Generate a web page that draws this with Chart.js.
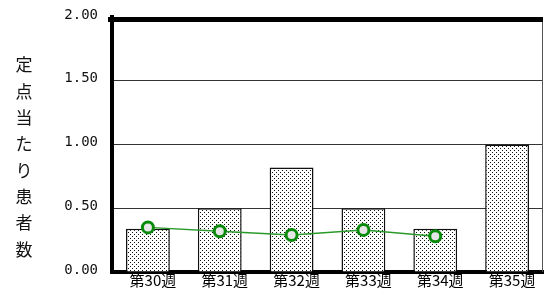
<!DOCTYPE html>
<html>
<head>
<meta charset="utf-8">
<script src="https://cdn.jsdelivr.net/npm/chart.js@4"></script>
<style>
  html, body { margin: 0; padding: 0; background: #fff; overflow: hidden; }
  #wrap { width: 544px; height: 289px; position: relative; }
  canvas { display: block; }
</style>
</head>
<body>
<div id="wrap"><canvas id="chart"></canvas></div>
<script>
var weeks = ["第30週", "第31週", "第32週", "第33週", "第34週", "第35週"];
var barValues = [0.34, 0.5, 0.82, 0.5, 0.34, 1.0];
var lineValues = [0.35, 0.32, 0.29, 0.33, 0.28, null];
var yTicks = [0, 0.5, 1.0, 1.5, 2.0];
var yTitle = "定点当たり患者数";

function dotPattern() {
    var c = document.createElement("canvas");
    c.width = 4; c.height = 4;
    var g = c.getContext("2d");
    g.fillStyle = "#fff";
    g.fillRect(0, 0, 4, 4);
    g.fillStyle = "#111";
    g.fillRect(0, 0, 1, 1);
    g.fillRect(2, 2, 1, 1);
    return g.createPattern(c, "repeat");
}

// draws the stacked vertical title and the frame around the plot
var framePlugin = {
    id: "frame",
    afterDraw: function (chart) {
        var ctx = chart.ctx, a = chart.chartArea;
        ctx.save();
        ctx.strokeStyle = "#555";
        ctx.lineWidth = 1;
        ctx.beginPath();
        ctx.moveTo(a.right - 0.5, a.top);
        ctx.lineTo(a.right - 0.5, a.bottom);
        ctx.stroke();
        ctx.fillStyle = "#000";
        ctx.fillRect(a.left - 4, a.top, a.right - a.left + 4, 5);
        ctx.font = "17px 'Noto Sans CJK JP'";
        ctx.textAlign = "center";
        ctx.textBaseline = "middle";
        ctx.fillStyle = "#111";
        for (var i = 0; i < yTitle.length; i++) {
            ctx.fillText(yTitle[i], 24, 65 + i * 26.3);
        }
        ctx.restore();
    }
};

new Chart(document.getElementById("chart").getContext("2d"), {
    data: {
        labels: weeks,
        datasets: [
            {
                type: "line",
                data: lineValues,
                order: 0,
                borderColor: "#2a9a2a",
                borderWidth: 1.5,
                pointRadius: 5.5,
                pointBorderWidth: 3,
                pointBorderColor: "#0a8a0a",
                pointBackgroundColor: "#e6e6e6",
                spanGaps: false
            },
            {
                type: "bar",
                data: barValues,
                order: 1,
                backgroundColor: dotPattern(),
                borderColor: "#111",
                borderWidth: 1.5,
                barPercentage: 0.61,
                categoryPercentage: 1.0
            }
        ]
    },
    options: {
        responsive: true,
        maintainAspectRatio: false,
        animation: false,
        layout: { autoPadding: false, padding: { top: 17, right: 1, left: 0, bottom: 0 } },
        plugins: { legend: { display: false }, tooltip: { enabled: false } },
        scales: {
            x: {
                grid: { display: false, drawTicks: false },
                border: { color: "#000", width: 4 },
                ticks: {
                    color: "#000",
                    font: { family: "'Noto Sans CJK JP'", size: 15 },
                    padding: -1,
                    labelOffset: 5,
                    maxRotation: 0
                },
                afterFit: function (s) {
                    s.height = 17;
                    s.paddingLeft = 0;
                    s.paddingRight = 0;
                }
            },
            y: {
                min: 0,
                max: 2,
                border: { color: "#000", width: 4 },
                grid: {
                    color: function (c) { return c.tick && c.tick.value === 2 ? "rgba(0,0,0,0)" : "#333"; },
                    lineWidth: 1,
                    drawTicks: false
                },
                afterBuildTicks: function (s) {
                    s.ticks = yTicks.map(function (v) { return { value: v }; });
                },
                ticks: {
                    color: "#111",
                    padding: 14,
                    labelOffset: -2,
                    font: { family: "'DejaVu Sans Mono'", size: 14 },
                    callback: function (v) { return Number(v).toFixed(2); }
                },
                afterFit: function (s) {
                    s.width = 112;
                    s.paddingTop = 0;
                    s.paddingBottom = 0;
                }
            }
        }
    },
    plugins: [framePlugin]
});
</script>
</body>
</html>
